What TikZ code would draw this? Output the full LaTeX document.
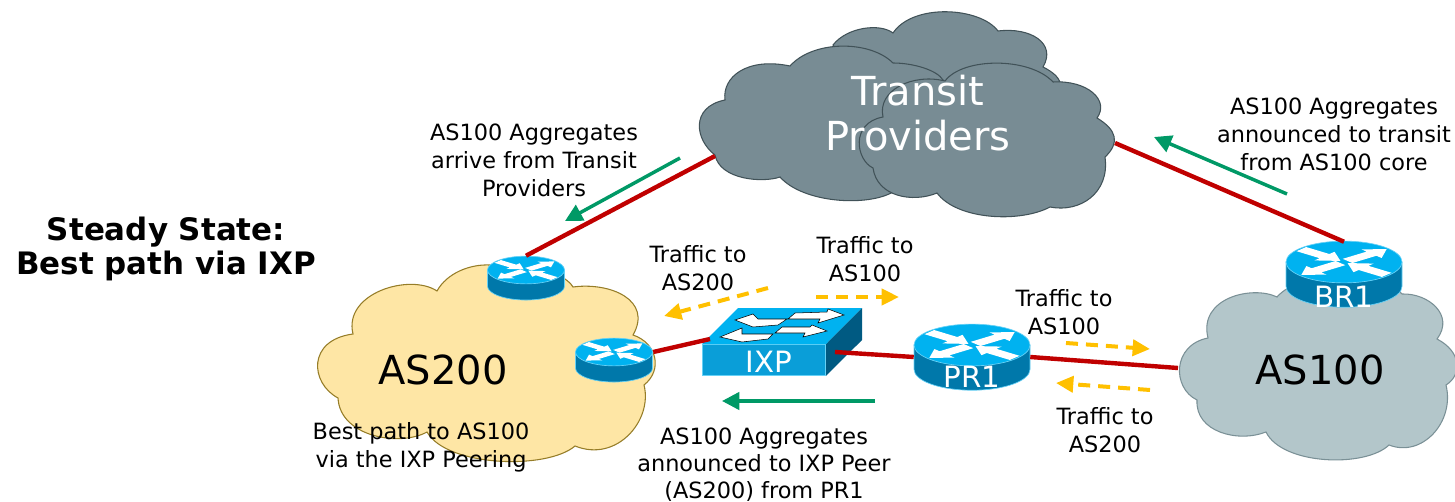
\documentclass[tikz,border=0pt]{standalone}
\usepackage{fontspec}
\setmainfont{DejaVu Sans}
\usetikzlibrary{arrows.meta}
\definecolor{linkred}{RGB}{192,0,0}
\definecolor{greenarrow}{RGB}{0,153,102}
\definecolor{trafficyellow}{RGB}{255,192,0}
\definecolor{routertop}{RGB}{0,178,240}
\definecolor{routerside}{RGB}{0,120,170}
\definecolor{switchfront}{RGB}{10,158,216}
\definecolor{switchside}{RGB}{0,90,130}
\definecolor{transitfill}{RGB}{120,140,148}
\definecolor{transitedge}{RGB}{65,82,88}
\tikzset{
  linkline/.style={draw=linkred,line width=3.3pt},
  announce/.style={draw=greenarrow,line width=2.6pt,-{Triangle[length=13pt,width=13pt]}},
  traffic/.style={draw=trafficyellow,line width=3pt,dash pattern=on 9pt off 6pt,-{Triangle[length=13pt,width=12pt]}},
  caption/.style={align=center,font=\fontsize{16.8}{21}\selectfont,inner sep=0pt},
  cloudname/.style={font=\fontsize{30}{30}\selectfont,inner sep=0pt},
  devname/.style={font=\fontsize{22}{22}\selectfont,text=white,inner sep=0pt},
  transitcloud/.style={draw=transitedge,fill=transitfill,line width=0.8pt},
  routernode/.style 2 args={minimum width=#1*0.75pt,minimum height=#2*0.75pt,inner sep=0pt},
  router/.pic={
    \draw[routertop!60!white,line width=0.5pt,fill=routerside] (-100,0) -- (-100,-42) arc[start angle=180,end angle=360,x radius=100,y radius=36] -- (100,0) -- cycle;
    \draw[routertop!60!white,line width=0.5pt,fill=routertop] (0,0) ellipse[x radius=100,y radius=36];
    \foreach \a in {40,220}
      \fill[white,yscale=0.36,rotate=\a] (8,-13) -- (62,-13) -- (62,-27) -- (96,0) -- (62,27) -- (62,13) -- (8,13) -- cycle;
    \foreach \a in {140,-40}
      \fill[white,yscale=0.36,rotate=\a] (96,-13) -- (44,-13) -- (44,-27) -- (8,0) -- (44,27) -- (44,13) -- (96,13) -- cycle;
  }
}
\begin{document}
\begin{tikzpicture}[x=0.75pt,y=0.75pt,yscale=-1,xscale=1]
\useasboundingbox (0,0) rectangle (1455,502);
% Transit cloud
\draw[transitcloud] (833,45) .. controls (847,27) and (880,23) .. (893,33) .. controls (913,3) and (980,7) .. (998,31) .. controls (1030,27) and (1057,43) .. (1043,67) .. controls (1053,72) and (1058,77) .. (1060,82) -- (900,150) -- cycle;
\draw[transitcloud] (715,155) .. controls (695,140) and (690,107) .. (725,100) .. controls (722,77) and (747,57) .. (790,66) .. controls (813,40) and (870,40) .. (893,63) .. controls (913,63) and (937,70) .. (943,80) -- (893,192) .. controls (867,207) and (803,203) .. (780,177) .. controls (763,183) and (720,180) .. (715,155) -- cycle;
\draw[transitcloud] (873,168) .. controls (856,160) and (850,123) .. (883,117) .. controls (877,90) and (913,73) .. (945,81) .. controls (963,57) and (1030,57) .. (1053,82) .. controls (1087,80) and (1110,100) .. (1097,118) .. controls (1117,130) and (1120,143) .. (1105,157) .. controls (1110,193) and (1080,213) .. (1050,207) .. controls (1020,223) and (957,220) .. (937,193) .. controls (913,203) and (877,197) .. (873,168) -- cycle;
% AS200 cloud
\draw[draw={rgb,255:red,150;green,125;blue,40},fill={rgb,255:red,254;green,230;blue,165},line width=0.8pt] (338,398) .. controls (310,383) and (307,340) .. (353,334) .. controls (343,293) and (410,273) .. (437,291) .. controls (447,273) and (470,264) .. (490,265) .. controls (517,260) and (563,270) .. (573,287) .. controls (610,282) and (653,300) .. (633,335) .. controls (657,343) and (663,370) .. (644,385) .. controls (653,420) and (617,463) .. (575,446) .. controls (547,470) and (447,467) .. (427,432) .. controls (400,447) and (340,437) .. (338,398) -- cycle;
% AS100 cloud
\draw[draw={rgb,255:red,122;green,144;blue,150},fill={rgb,255:red,179;green,198;blue,202},line width=0.8pt] (1197,400) .. controls (1172,388) and (1172,345) .. (1208,338) .. controls (1198,298) and (1252,285) .. (1277,297) .. controls (1300,270) and (1380,270) .. (1402,294) .. controls (1428,293) and (1455,315) .. (1437,339) .. controls (1462,352) and (1462,375) .. (1446,385) .. controls (1455,422) and (1422,458) .. (1389,445) .. controls (1365,468) and (1282,465) .. (1266,432) .. controls (1238,443) and (1195,432) .. (1197,400) -- cycle;
% routers
\pic[scale=0.385] at (526,270) {router};
\pic[scale=0.385] at (614,352) {router};
\pic[scale=0.58] at (972,345) {router};
\pic[scale=0.58] at (1344,262) {router};
\node[routernode={78}{28}] (as200top) at (526,270) {};
\node[routernode={78}{28}] (as200ixp) at (614,352) {};
\node[routernode={116}{65}] (pr1) at (972,357) {};
\node[routernode={116}{40}] (br1) at (1344,262) {};
\node[devname] (pr1name) at (972,377) {PR1};
\node[devname] (br1name) at (1344,297) {BR1};
% IXP switch
\node[routernode={123.5}{31},fill=switchfront,draw=routertop!60!white,line width=0.5pt] (ixp) at (764,360) {};
\fill[routertop] (ixp.north west) -- (738,308) -- (862,308) -- (ixp.north east) -- cycle;
\fill[switchside] (ixp.north east) -- (862,308) -- (862,340) -- (ixp.south east) -- cycle;
\draw[fill=white,line width=0.4pt] (735,320) -- (753,314) -- (758,319) -- (787,319) -- (778,325) -- (753,327) -- cycle;
\draw[fill=white,line width=0.4pt] (844,315) -- (828,309) -- (827,312) -- (795,313) -- (788,319) -- (820,319) -- (818,323) -- cycle;
\draw[fill=white,line width=0.4pt] (720,337) -- (742,328) -- (742,334) -- (773,334) -- (768,339) -- (742,342) -- cycle;
\draw[fill=white,line width=0.4pt] (827,331) -- (812,325) -- (810,327) -- (782,327) -- (775,333) -- (805,333) -- (803,337) -- cycle;
\node[devname] (ixpname) at (769,362) {IXP};
% link ends
\coordinate (transitleft) at (715,156);
\coordinate (transitright) at (1115,143);
\coordinate (ixpleft) at (710,339);
\coordinate (ixpright) at (835,352);
\coordinate (as100edge) at (1178,368);
\draw[linkline] (as200top.north) -- (transitleft);
\draw[linkline] (br1.north) -- (transitright);
\draw[linkline] (as200ixp.east) -- (ixpleft);
\draw[linkline] (ixpright) -- (pr1.west);
\draw[linkline] (pr1.east) -- (as100edge);
% announcements
\coordinate (ga) at (680,158); \coordinate (gb) at (565,221);
\coordinate (gc) at (1287,194); \coordinate (gd) at (1154,137);
\coordinate (ge) at (875,401); \coordinate (gf) at (722,401);
\draw[announce] (ga) -- (gb);
\draw[announce] (gc) -- (gd);
\draw[announce] (ge) -- (gf);
% traffic
\coordinate (ya) at (768,288); \coordinate (yb) at (664,316);
\coordinate (yc) at (816,297); \coordinate (yd) at (899,297);
\coordinate (ye) at (1066,343); \coordinate (yf) at (1150,349);
\coordinate (yg) at (1150,390); \coordinate (yh) at (1056,383);
\draw[traffic] (ya) -- (yb);
\draw[traffic] (yc) -- (yd);
\draw[traffic] (ye) -- (yf);
\draw[traffic] (yg) -- (yh);
% labels
\node[caption,font=\fontsize{23.2}{25.5}\bfseries\selectfont] (title) at (166,249) {Steady State:\\Best path via IXP};
\node[cloudname,text=white,align=center,font=\fontsize{30}{34}\selectfont] (transit) at (918,113) {Transit\\Providers};
\node[cloudname] (as200) at (443,370) {AS200};
\node[cloudname] (as100) at (1320,370) {AS100};
\node[caption] (arrive) at (534,160) {AS100 Aggregates\\arrive from Transit\\Providers};
\node[caption] (announced) at (1334,134) {AS100 Aggregates\\announced to transit\\from AS100 core};
\node[caption] (toas200a) at (698,268) {Traffic to\\AS200};
\node[caption] (toas100a) at (865,259) {Traffic to\\AS100};
\node[caption] (toas100b) at (1064,312) {Traffic to\\AS100};
\node[caption] (toas200b) at (1105,430) {Traffic to\\AS200};
\node[caption,font=\fontsize{16.8}{20.25}\selectfont] (peer) at (764,465) {AS100 Aggregates\\announced to IXP Peer\\(AS200) from PR1};
\node[caption] (bestpath) at (421,447) {Best path to AS100\\via the IXP Peering};
\end{tikzpicture}
\end{document}
